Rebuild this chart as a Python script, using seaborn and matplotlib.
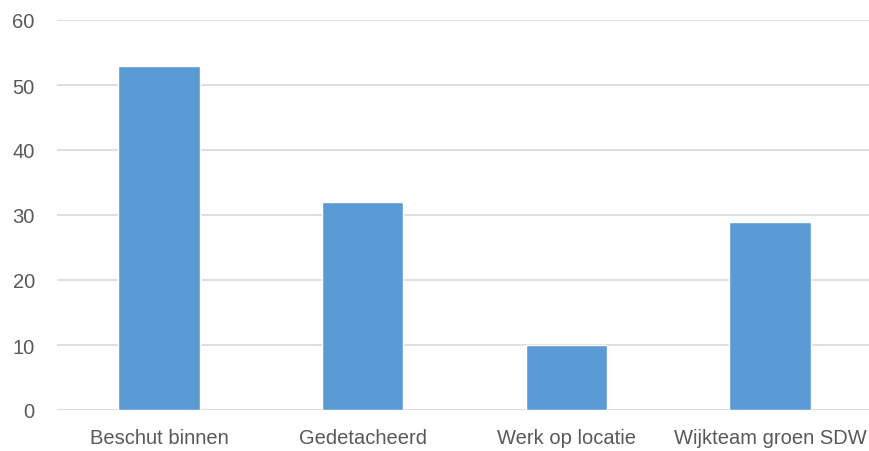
import matplotlib
matplotlib.use("Agg")
import matplotlib.pyplot as plt
import seaborn as sns
import pandas as pd

categories = ["Beschut binnen", "Gedetacheerd", "Werk op locatie", "Wijkteam groen SDW"]
values = [53, 32, 10, 29]
y_ticks = [0, 10, 20, 30, 40, 50, 60]

data = pd.DataFrame({"categorie": categories, "aantal": values})

sns.set_style("white")
plt.rcParams['font.family'] = ['Liberation Sans', 'DejaVu Sans']

fig = plt.figure(figsize=(8.69, 4.52), dpi=100)
ax = fig.add_axes([57/869, 41/452, 815/869, 390/452])

sns.barplot(data=data, x="categorie", y="aantal", color="#5B9BD5", width=0.4,
            saturation=1, ax=ax, zorder=3)

ax.set_ylim(0, 60)
ax.set_xlim(-0.5, 3.5)
ax.set_yticks(y_ticks)
ax.yaxis.grid(True, color="#D9D9D9", linewidth=1.2, zorder=0)
ax.set_axisbelow(True)
for s in ["top", "right", "left", "bottom"]:
    ax.spines[s].set_visible(False)
ax.axhline(0, color="#D9D9D9", linewidth=1.2, zorder=1)
ax.tick_params(axis="both", length=0, labelsize=14.5, labelcolor="#595959")
ax.tick_params(axis="y", pad=16)
ax.tick_params(axis="x", pad=13)
ax.set_xlabel("")
ax.set_ylabel("")

fig.savefig("out.png", dpi=100)
